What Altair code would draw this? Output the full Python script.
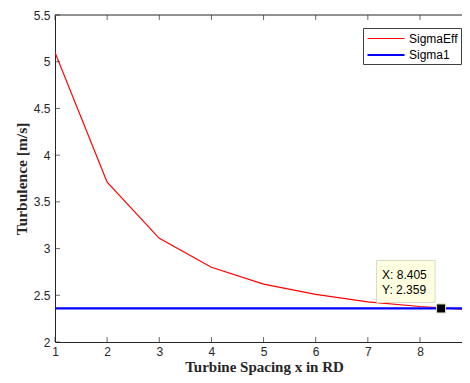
import altair as alt
import pandas as pd

# data
spacing = [1, 2, 3, 4, 5, 6, 7, 8, 9, 10]
sigma_eff = [5.10, 3.71, 3.11, 2.80, 2.62, 2.51, 2.43, 2.38, 2.345, 2.31]
sigma1_value = 2.359
series_names = ["SigmaEff", "Sigma1"]
tip_x = [8.405]
tip_y = [2.359]
tip_line1 = ["X: 8.405"]
tip_line2 = ["Y: 2.359"]
x_ticks = [1, 2, 3, 4, 5, 6, 7, 8, 9]
y_ticks = [2, 2.5, 3, 3.5, 4, 4.5, 5, 5.5]
x_min, x_max = 1, 8.806
y_min, y_max = 2, 5.5

W, H = 407, 327

rows = []
for x, v in zip(spacing, sigma_eff):
    rows.append({"x": x, "value": v, "series": "SigmaEff"})
for x in spacing:
    rows.append({"x": x, "value": sigma1_value, "series": "Sigma1"})
df = pd.DataFrame(rows)

tip = pd.DataFrame({"x": tip_x, "value": tip_y, "t1": tip_line1, "t2": tip_line2})
xt = pd.DataFrame({"x": [v for v in x_ticks if v <= x_max]})
yt = pd.DataFrame({"value": y_ticks})

xs = alt.Scale(domain=[x_min, x_max], nice=False, zero=False)
ys = alt.Scale(domain=[y_min, y_max], nice=False, zero=False)
AX = "#262626"

x_axis = alt.Axis(
    orient="bottom", values=x_ticks, ticks=False, labelPadding=4, grid=False,
    labelFont="Arial", labelFontSize=12, labelColor=AX, domainColor=AX,
    title="Turbine Spacing x in RD", labelFlush=False, titleX=209,
    titleFont="Liberation Serif", titleFontSize=15, titleFontWeight="bold",
    titleColor=AX, titlePadding=2)
y_axis = alt.Axis(
    orient="left", values=y_ticks, ticks=False, labelPadding=5, format="~g", grid=False,
    labelFont="Arial", labelFontSize=12, labelColor=AX, domainColor=AX,
    title="Turbulence [m/s]",
    titleFont="Liberation Serif", titleFontSize=15.5, titleFontWeight="bold",
    titleColor=AX, titlePadding=4)

X = alt.X("x:Q", scale=xs, axis=x_axis)
Y = alt.Y("value:Q", scale=ys, axis=y_axis)

lines = alt.Chart(df).mark_line(clip=True).encode(
    x=X, y=Y,
    color=alt.Color("series:N", sort=series_names,
                    scale=alt.Scale(domain=series_names, range=["#ff0000", "#0000ff"]),
                    legend=alt.Legend(orient="none", legendX=308, legendY=13, title=None,
                                      strokeColor="#404040", fillColor="white", padding=3,
                                      rowPadding=2, labelFont="Arial", labelFontSize=12,
                                      labelColor="#000000",
                                      symbolType="M-1,0H4.7", symbolSize=169,
                                      symbolStrokeWidth=1, labelOffset=27)),
    strokeWidth=alt.StrokeWidth("series:N", scale=alt.Scale(domain=series_names, range=[1.2, 2.2]),
                                legend=None),
)

top_border = alt.Chart(tip).mark_rule(color=AX, strokeWidth=1).encode(
    y=alt.Y("ymax:Q", scale=ys, axis=y_axis)
).transform_calculate(ymax=str(y_max))

bottom_ticks = alt.Chart(xt).mark_tick(orient="vertical", size=5, thickness=1, color=AX,
                                       yOffset=-2.5).encode(
    x=X, y=alt.Y("value:Q", scale=ys, axis=y_axis)
).transform_calculate(value=str(y_min))

top_ticks = alt.Chart(xt).mark_tick(orient="vertical", size=5, thickness=1, color=AX,
                                    yOffset=2.5).encode(
    x=X, y=alt.Y("value:Q", scale=ys, axis=y_axis)
).transform_calculate(value=str(y_max))

left_ticks = alt.Chart(yt).mark_tick(orient="horizontal", size=5, thickness=1, color=AX,
                                     xOffset=2.5).encode(
    y=Y, x=alt.X("x:Q", scale=xs, axis=x_axis)
).transform_calculate(x=str(x_min))

box = alt.Chart(tip).mark_rect(fill="#ffffe1", stroke="#d8d8c4", strokeWidth=1,
                               xOffset=-64.5, x2Offset=-6, yOffset=-48, y2Offset=-6).encode(
    x=X, x2="x", y=Y, y2="value")

txt1 = alt.Chart(tip).mark_text(align="left", baseline="middle", font="Arial",
                                fontSize=12, color="#000000", dx=-59, dy=-33.5).encode(
    x=X, y=Y, text="t1:N")

txt2 = alt.Chart(tip).mark_text(align="left", baseline="middle", font="Arial",
                                fontSize=12, color="#000000", dx=-59, dy=-18.5).encode(
    x=X, y=Y, text="t2:N")

marker = alt.Chart(tip).mark_square(size=81, color="#000000", stroke="#e0e0c4",
                                     strokeWidth=1, opacity=1).encode(x=X, y=Y)

chart = alt.layer(lines, top_border, bottom_ticks, top_ticks, left_ticks,
                  box, txt1, txt2, marker).properties(
    width=W, height=H,
    autosize=alt.AutoSizeParams(type="none"),
    padding={"left": 47, "top": 7, "right": 0, "bottom": 33},
).configure_view(stroke=None)

chart.save("out.html", embed_options={"renderer": "svg", "actions": False})
